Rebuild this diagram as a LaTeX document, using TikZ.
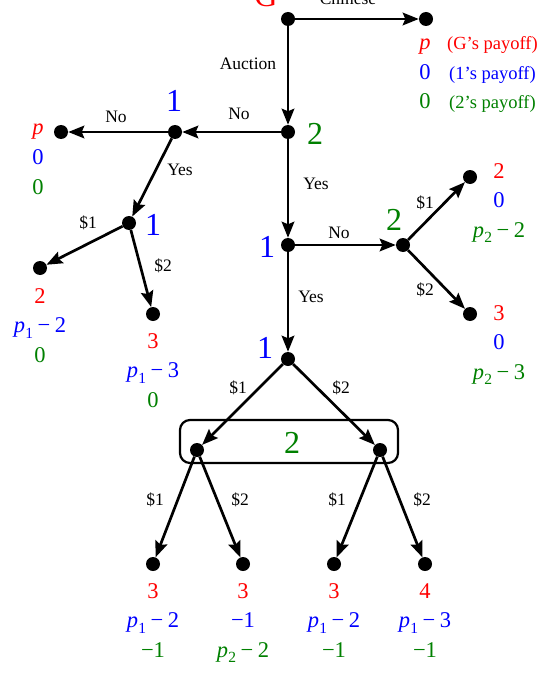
\documentclass[tikz,border=0pt]{standalone}
\usepackage{fontspec}
\setmainfont{Liberation Serif}
\usetikzlibrary{arrows.meta}
\definecolor{myred}{RGB}{255,0,0}
\definecolor{myblue}{RGB}{0,0,255}
\definecolor{mygreen}{RGB}{0,128,0}
\newcommand\pv[1]{{\itshape p}\kern0.3pt\raisebox{-0.25em}{\fontsize{15.5}{16}\selectfont #1}}
\newcommand\mn{\hspace{0.2em}−\hspace{0.2em}}
\newcommand\payoff[6]{%
  \node[pay,text=myred] (#1-r) at (#2,{#3}) {#4};
  \node[pay,text=myblue] (#1-b) at (#2,{#3+29.5}) {#5};
  \node[pay,text=mygreen] (#1-g) at (#2,{#3+59}) {#6};}
\tikzset{
  dot/.style={circle,fill=black,minimum size=14pt,inner sep=0pt},
  edge/.style={line width=2.7pt,-{Stealth[length=16pt,width=12.5pt,inset=2.5pt]}},
  elab/.style={font=\fontsize{17.5}{20}\selectfont,anchor=base,inner sep=0pt},
  plab/.style={font=\fontsize{32}{36}\selectfont,anchor=base,inner sep=0pt},
  pay/.style={font=\fontsize{22.5}{26}\selectfont,anchor=base,inner sep=0pt},
  legend/.style={font=\fontsize{18.5}{20}\selectfont,anchor=base west,inner sep=0pt}
}
\begin{document}
\begin{tikzpicture}[x=1pt,y=-1pt]
\useasboundingbox (0,0) rectangle (553,674);
% decision and terminal nodes
\node[dot] (g) at (288,19) {};
\node[dot] (cl) at (426,19) {};
\node[dot] (n2) at (288,132) {};
\node[dot] (n1a) at (175,132) {};
\node[dot] (l1) at (61,132) {};
\node[dot] (n1b) at (129,223) {};
\node[dot] (l2) at (40,268) {};
\node[dot] (l3) at (153,314) {};
\node[dot] (n1c) at (288,245) {};
\node[dot] (n2b) at (403,245) {};
\node[dot] (l4) at (470,177) {};
\node[dot] (l5) at (470,314) {};
\node[dot] (n1d) at (288,359) {};
\node[dot] (a) at (197,450) {};
\node[dot] (b) at (380,450) {};
\node[dot] (l6) at (153,564) {};
\node[dot] (l7) at (243,564) {};
\node[dot] (l8) at (334,564) {};
\node[dot] (l9) at (425,564) {};
% information set
\draw[line width=2.2pt,rounded corners=10pt] (180,420) rectangle (398,463);
% edges
\draw[edge] (g) -- (cl);
\draw[edge] (g) -- (n2);
\draw[edge] (n2) -- (n1a);
\draw[edge] (n1a) -- (l1);
\draw[edge] (n1a) -- (n1b);
\draw[edge] (n1b) -- (l2);
\draw[edge] (n1b) -- (l3);
\draw[edge] (n2) -- (n1c);
\draw[edge] (n1c) -- (n2b);
\draw[edge] (n2b) -- (l4);
\draw[edge] (n2b) -- (l5);
\draw[edge] (n1c) -- (n1d);
\draw[edge] (n1d) -- (a);
\draw[edge] (n1d) -- (b);
\draw[edge] (a) -- (l6);
\draw[edge] (a) -- (l7);
\draw[edge] (b) -- (l8);
\draw[edge] (b) -- (l9);
% player labels
\node[plab,text=myred] (pg) at (266,7) {G};
\node[plab,text=myblue] (p1a) at (174,112) {1};
\node[plab,text=mygreen] (p2) at (315,144) {2};
\node[plab,text=myblue] (p1b) at (153,235) {1};
\node[plab,text=myblue] (p1c) at (267,257) {1};
\node[plab,text=mygreen] (p2b) at (394,230) {2};
\node[plab,text=myblue] (p1d) at (265,358) {1};
\node[plab,text=mygreen] (p2c) at (292,453) {2};
% edge labels
\node[elab] (e1) at (348,5) {Chinese};
\node[elab] (e2) at (248,70) {Auction};
\node[elab] (e3) at (239,120) {No};
\node[elab] (e4) at (116,123) {No};
\node[elab] (e5) at (180,175) {Yes};
\node[elab] (e6) at (88,228) {\$1};
\node[elab] (e7) at (163,271) {\$2};
\node[elab] (e8) at (316,189) {Yes};
\node[elab] (e9) at (339,238) {No};
\node[elab] (e10) at (311,302) {Yes};
\node[elab] (e11) at (425,208) {\$1};
\node[elab] (e12) at (425,295) {\$2};
\node[elab] (e13) at (238,393) {\$1};
\node[elab] (e14) at (341,393) {\$2};
\node[elab] (e15) at (155,505) {\$1};
\node[elab] (e16) at (240,505) {\$2};
\node[elab] (e17) at (337,505) {\$1};
\node[elab] (e18) at (422,505) {\$2};
% payoffs
\payoff{lg}{425}{50}{\itshape p}{0}{0}
\node[legend,text=myred] (lgt1) at (447,50) {(G’s payoff)};
\node[legend,text=myblue] (lgt2) at (449,79.5) {(1’s payoff)};
\node[legend,text=mygreen] (lgt3) at (449,109) {(2’s payoff)};
\payoff{q1}{38}{135}{\itshape p}{0}{0}
\payoff{q2}{40}{303}{2}{\pv{1}\mn2}{0}
\payoff{q3}{153}{348}{3}{\pv{1}\mn3}{0}
\payoff{q4}{499}{178}{2}{0}{\pv{2}\mn2}
\payoff{q5}{499}{320}{3}{0}{\pv{2}\mn3}
\payoff{q6}{153}{598}{3}{\pv{1}\mn2}{−1}
\payoff{q7}{243}{598}{3}{−1}{\pv{2}\mn2}
\payoff{q8}{334}{598}{3}{\pv{1}\mn2}{−1}
\payoff{q9}{425}{598}{4}{\pv{1}\mn3}{−1}
\end{tikzpicture}
\end{document}
